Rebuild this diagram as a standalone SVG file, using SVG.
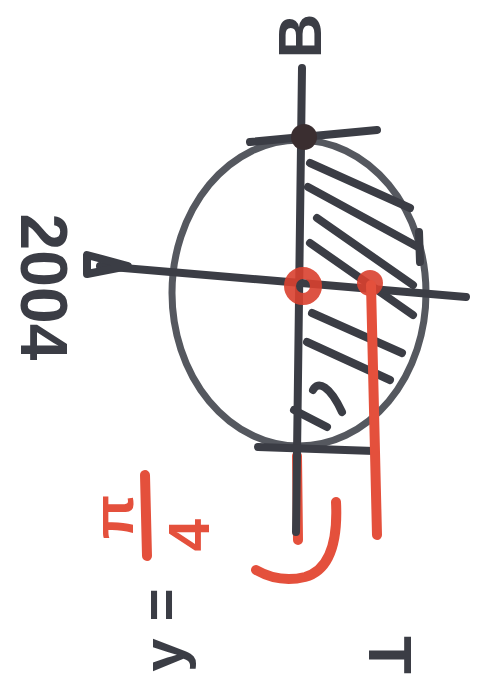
<svg xmlns="http://www.w3.org/2000/svg" width="477" height="683" viewBox="0 0 477 683">
<style>
.k{fill:none;stroke:#3b3d45;stroke-width:8;stroke-linecap:round;stroke-linejoin:round}
.g{fill:none;stroke:#55585f;stroke-width:7}
.r{fill:none;stroke:#e4503c;stroke-width:10;stroke-linecap:round;stroke-linejoin:round}
.h{fill:none;stroke:#3b3d45;stroke-width:8;stroke-linecap:round}
.tk{font-family:"Liberation Sans",Arial,sans-serif;font-weight:bold;fill:#3b3d45;text-anchor:middle;dominant-baseline:central}
.tr{font-family:"Liberation Sans",Arial,sans-serif;font-weight:bold;fill:#e4503c;text-anchor:middle;dominant-baseline:central}
</style>
<rect width="477" height="683" fill="#ffffff"/>
<g id="red-under">
<path class="r" d="M297,456 L298,540" stroke-width="12"/>
</g>
<g id="circle">
<ellipse class="g" cx="299" cy="293" rx="127" ry="153"/>
<path class="k" d="M419,232 L420,262" stroke-width="9"/>
</g>
<g id="hatching">
<path class="h" d="M310,163 L410,208"/>
<path class="h" d="M308,187 L418,247"/>
<path class="h" d="M317,218 L413,285"/>
<path class="h" d="M310,243 L413,315"/>
<path class="h" d="M312,313 L402,353"/>
<path class="h" d="M307,342 L390,380"/>
<path class="h" d="M313,390 C318,380 330,386 342,412"/>
<path class="h" d="M294,410 L327,427"/>
</g>
<g id="connectors">
<path class="k" d="M302,68 L296,532"/>
<path class="k" d="M250,142 L377,130"/>
<path class="k" d="M100,266 L466,297"/>
<polygon class="k" points="87,255 87,274 128,266" stroke-width="8"/>
<path class="k" d="M258,447 L374,451"/>
</g>
<g id="nodes">
<circle id="top-dot" cx="304" cy="137" r="13" fill="#3a2e30"/>
<circle id="center-ring" cx="303" cy="286" r="13" fill="none" stroke="#d9402f" stroke-width="12" opacity="0.9"/>
<g id="red-marker">
<circle cx="370" cy="283" r="13" fill="#d9402f" opacity="0.9"/>
<path class="r" d="M371,285 L377,535"/>
<path class="r" d="M336,502 C338,542 330,570 305,577 C285,582 270,578 256,570"/>
</g>
</g>
<g id="labels">
<text class="tk" font-size="62" transform="translate(299,36) rotate(-90)">B</text>
<text class="tk" font-size="66" transform="translate(44,287) rotate(90)">2004</text>
<text class="tk" font-size="62" transform="translate(390,655) rotate(90)">T</text>
<text class="tk" font-size="60" transform="translate(163,655) rotate(-90)">y</text>
<text class="tk" font-size="56" transform="translate(160,605) rotate(-90)">=</text>
<text class="tr" font-size="58" transform="translate(112,517) rotate(-90)">π</text>
<path class="r" d="M145,475 L147,556"/>
<text class="tr" font-size="58" transform="translate(188,535) rotate(-90)">4</text>
</g>
</svg>
